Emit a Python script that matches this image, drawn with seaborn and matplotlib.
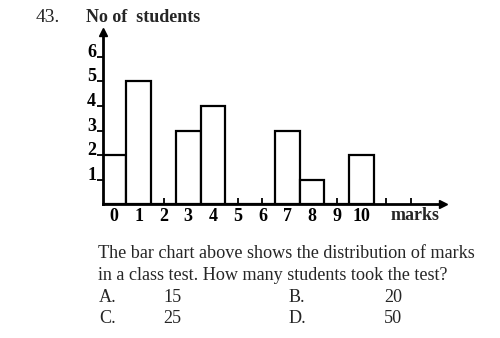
import matplotlib
matplotlib.use("Agg")
import matplotlib.pyplot as plt
import seaborn as sns

# Data
marks = [0, 1, 2, 3, 4, 5, 6, 7, 8, 9, 10]
students = [2, 5, 0, 3, 4, 0, 0, 3, 1, 0, 2]
x_ticks = [0, 1, 2, 3, 4, 5, 6, 7, 8, 9, 10, 11, 12]
x_tick_labels = ["0", "1", "2", "3", "4", "5", "6", "7", "8", "9", "10", "", ""]
y_ticks = [1, 2, 3, 4, 5, 6]

question = ["The bar chart above shows the distribution of marks",
            "in a class test. How many students took the test?"]
option_letters = [["A.", "B."], ["C.", "D."]]
option_values = [["15", "20"], ["25", "50"]]

sns.set_style("white")
plt.rcParams['font.family'] = ['Liberation Serif', 'DejaVu Serif']

fig = plt.figure(figsize=(5, 3.38), dpi=100)
ax = fig.add_axes([0.206, 0.395, 0.68, 0.51])

sns.barplot(x=marks, y=students, native_scale=True, width=1.0,
            color="white", edgecolor="black", linewidth=1.6, ax=ax)

ax.set_xlim(-0.45, 13.3)
ax.set_ylim(0, 7.0)
for s in ["top", "right"]:
    ax.spines[s].set_visible(False)
for s in ["left", "bottom"]:
    ax.spines[s].set_linewidth(2)
    ax.spines[s].set_color("black")

# arrow heads on the axes
ax.plot(1, 0, ">k", ms=6, transform=ax.transAxes, clip_on=False)
ax.plot(0, 1, "^k", ms=6, transform=ax.transAxes, clip_on=False)

ax.set_xticks(x_ticks)
ax.set_xticklabels(x_tick_labels, fontweight="bold", fontsize=13)
ax.tick_params(axis="x", bottom=True, direction="in", length=4, width=1.3,
               pad=2.5, colors="black")
ax.set_yticks(y_ticks)
# digits sit on top of their tick mark, like in the scan
ax.set_yticklabels([str(v) for v in y_ticks], fontweight="bold", fontsize=13,
                   va="baseline")
ax.tick_params(axis="y", left=True, direction="out", length=4.5, width=1.3,
               pad=0.5, colors="black")
ax.set_xlabel("")
ax.set_ylabel("")

ax.text(12.15, -0.45, "marks", transform=ax.transData, ha="center", va="center",
        fontweight="bold", fontsize=13)

fig.text(0.072, 0.947, "43.", ha="left", va="center", fontsize=14)
fig.text(0.172, 0.947, "No of  students", ha="left", va="center",
         fontweight="bold", fontsize=13)

fs = 13.1
fig.text(0.196, 0.237, question[0], ha="left", va="baseline", fontsize=fs)
fig.text(0.196, 0.172, question[1], ha="left", va="baseline", fontsize=fs)
row_y = [0.107, 0.044]
for r in range(2):
    fig.text(0.198, row_y[r], option_letters[r][0], ha="left", va="baseline", fontsize=fs)
    fig.text(0.326, row_y[r], option_values[r][0], ha="left", va="baseline", fontsize=fs)
    fig.text(0.578, row_y[r], option_letters[r][1], ha="left", va="baseline", fontsize=fs)
    fig.text(0.768, row_y[r], option_values[r][1], ha="left", va="baseline", fontsize=fs)

fig.savefig("out.png", dpi=100)
